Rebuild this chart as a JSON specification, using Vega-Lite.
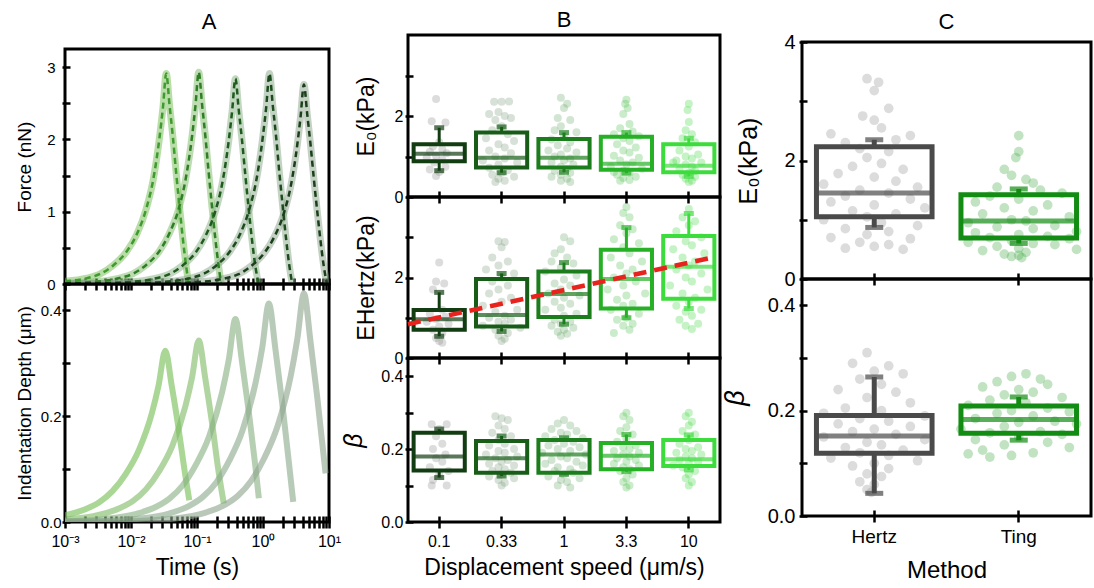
{
"$schema":"https://vega.github.io/schema/vega-lite/v6.json",
"background":"white",
"padding":{"left":13,"top":7,"right":0,"bottom":0},
"config":{
"view":{"stroke":"black","strokeWidth":3},
"font":"Liberation Sans",
"axis":{"domain":false,"grid":false,"tickColor":"black","tickWidth":2.5,"labelColor":"black","titleColor":"black","labelFont":"Liberation Sans","titleFont":"Liberation Sans","titleFontWeight":"normal","labelFlush":false,"labelOverlap":false},
"axisX":{"tickSize":12,"offset":-6,"labelPadding":5,"labelFontSize":16,"titleFontSize":23,"titlePadding":7,"labelAngle":0},
"axisY":{"tickSize":8,"offset":-5,"labelPadding":2,"labelFontSize":15,"titleFontSize":19,"titlePadding":6},
"title":{"fontSize":22,"fontWeight":"normal","font":"Liberation Sans","color":"black","anchor":"middle","frame":"group"}
},
"datasets":{
"force":[
{"s":"10","t":0.001,"f":0.038},{"s":"10","t":0.00216,"f":0.081},{"s":"10","t":0.00342,"f":0.14},{"s":"10","t":0.00542,"f":0.26},{"s":"10","t":0.00859,"f":0.45},{"s":"10","t":0.01213,"f":0.68},{"s":"10","t":0.01714,"f":1.05},{"s":"10","t":0.02158,"f":1.43},{"s":"10","t":0.02716,"f":2.04},{"s":"10","t":0.03048,"f":2.44},{"s":"10","t":0.0342,"f":2.91},{"s":"10","t":0.03837,"f":2.47},{"s":"10","t":0.04305,"f":2.04},{"s":"10","t":0.0483,"f":1.54},{"s":"10","t":0.0542,"f":1.08},{"s":"10","t":0.0608,"f":0.64},{"s":"10","t":0.0682,"f":0.26},{"s":"10","t":0.0748,"f":0.0},
{"s":"3.3","t":0.001,"f":0.012},{"s":"3.3","t":0.00267,"f":0.029},{"s":"3.3","t":0.00423,"f":0.047},{"s":"3.3","t":0.0067,"f":0.082},{"s":"3.3","t":0.01062,"f":0.14},{"s":"3.3","t":0.01683,"f":0.26},{"s":"3.3","t":0.02667,"f":0.45},{"s":"3.3","t":0.03767,"f":0.69},{"s":"3.3","t":0.05321,"f":1.05},{"s":"3.3","t":0.067,"f":1.44},{"s":"3.3","t":0.08433,"f":2.05},{"s":"3.3","t":0.09462,"f":2.46},{"s":"3.3","t":0.1062,"f":2.93},{"s":"3.3","t":0.1191,"f":2.49},{"s":"3.3","t":0.1337,"f":2.05},{"s":"3.3","t":0.15,"f":1.55},{"s":"3.3","t":0.1683,"f":1.08},{"s":"3.3","t":0.1888,"f":0.64},{"s":"3.3","t":0.2118,"f":0.26},{"s":"3.3","t":0.2323,"f":0.0},
{"s":"1","t":0.001,"f":0.005},{"s":"1","t":0.00382,"f":0.011},{"s":"1","t":0.0096,"f":0.028},{"s":"1","t":0.0152,"f":0.045},{"s":"1","t":0.0241,"f":0.08},{"s":"1","t":0.0382,"f":0.136},{"s":"1","t":0.0605,"f":0.256},{"s":"1","t":0.0959,"f":0.44},{"s":"1","t":0.1355,"f":0.67},{"s":"1","t":0.1914,"f":1.02},{"s":"1","t":0.241,"f":1.39},{"s":"1","t":0.3034,"f":1.99},{"s":"1","t":0.3404,"f":2.39},{"s":"1","t":0.382,"f":2.84},{"s":"1","t":0.4285,"f":2.41},{"s":"1","t":0.4808,"f":1.99},{"s":"1","t":0.5395,"f":1.51},{"s":"1","t":0.6053,"f":1.05},{"s":"1","t":0.6792,"f":0.62},{"s":"1","t":0.762,"f":0.26},{"s":"1","t":0.855,"f":0.0},
{"s":"0.33","t":0.001,"f":0.003},{"s":"0.33","t":0.00396,"f":0.006},{"s":"0.33","t":0.01253,"f":0.012},{"s":"0.33","t":0.03148,"f":0.029},{"s":"0.33","t":0.04989,"f":0.047},{"s":"0.33","t":0.0791,"f":0.081},{"s":"0.33","t":0.1253,"f":0.14},{"s":"0.33","t":0.1986,"f":0.26},{"s":"0.33","t":0.3148,"f":0.45},{"s":"0.33","t":0.4446,"f":0.68},{"s":"0.33","t":0.6281,"f":1.05},{"s":"0.33","t":0.7907,"f":1.43},{"s":"0.33","t":0.9954,"f":2.04},{"s":"0.33","t":1.117,"f":2.44},{"s":"0.33","t":1.253,"f":2.91},{"s":"0.33","t":1.406,"f":2.47},{"s":"0.33","t":1.578,"f":2.04},{"s":"0.33","t":1.77,"f":1.54},{"s":"0.33","t":1.986,"f":1.08},{"s":"0.33","t":2.228,"f":0.64},{"s":"0.33","t":2.5,"f":0.26},{"s":"0.33","t":2.773,"f":0.0},
{"s":"0.1","t":0.001,"f":0.002},{"s":"0.1","t":0.00417,"f":0.003},{"s":"0.1","t":0.01318,"f":0.006},{"s":"0.1","t":0.04169,"f":0.011},{"s":"0.1","t":0.1047,"f":0.028},{"s":"0.1","t":0.166,"f":0.044},{"s":"0.1","t":0.263,"f":0.077},{"s":"0.1","t":0.417,"f":0.132},{"s":"0.1","t":0.661,"f":0.248},{"s":"0.1","t":1.047,"f":0.43},{"s":"0.1","t":1.479,"f":0.65},{"s":"0.1","t":2.089,"f":0.99},{"s":"0.1","t":2.63,"f":1.35},{"s":"0.1","t":3.311,"f":1.93},{"s":"0.1","t":3.715,"f":2.32},{"s":"0.1","t":4.169,"f":2.76},{"s":"0.1","t":4.677,"f":2.35},{"s":"0.1","t":5.248,"f":1.93},{"s":"0.1","t":5.888,"f":1.46},{"s":"0.1","t":6.607,"f":1.02},{"s":"0.1","t":7.413,"f":0.61},{"s":"0.1","t":8.318,"f":0.25},{"s":"0.1","t":9.333,"f":0.0}
],
"indent":[
{"s":"10","t":0.001,"d":0.0126},{"s":"10","t":0.002084,"d":0.0246},{"s":"10","t":0.003304,"d":0.0373},{"s":"10","t":0.005236,"d":0.0583},{"s":"10","t":0.008299,"d":0.0907},{"s":"10","t":0.01315,"d":0.136},{"s":"10","t":0.02084,"d":0.207},{"s":"10","t":0.02624,"d":0.259},{"s":"10","t":0.03304,"d":0.324},{"s":"10","t":0.0416,"d":0.256},{"s":"10","t":0.05236,"d":0.178},{"s":"10","t":0.06592,"d":0.091},{"s":"10","t":0.07638,"d":0.041},
{"s":"3.3","t":0.001,"d":0.0045},{"s":"3.3","t":0.003357,"d":0.0137},{"s":"3.3","t":0.0067,"d":0.026},{"s":"3.3","t":0.01062,"d":0.0394},{"s":"3.3","t":0.01683,"d":0.0617},{"s":"3.3","t":0.02667,"d":0.096},{"s":"3.3","t":0.04227,"d":0.144},{"s":"3.3","t":0.067,"d":0.22},{"s":"3.3","t":0.08433,"d":0.274},{"s":"3.3","t":0.1062,"d":0.343},{"s":"3.3","t":0.1337,"d":0.271},{"s":"3.3","t":0.1683,"d":0.189},{"s":"3.3","t":0.2118,"d":0.096},{"s":"3.3","t":0.2547,"d":0.035},
{"s":"1","t":0.001,"d":0.0015},{"s":"1","t":0.00382,"d":0.0054},{"s":"1","t":0.01208,"d":0.0154},{"s":"1","t":0.0241,"d":0.0288},{"s":"1","t":0.0382,"d":0.0442},{"s":"1","t":0.0605,"d":0.069},{"s":"1","t":0.0959,"d":0.108},{"s":"1","t":0.152,"d":0.161},{"s":"1","t":0.241,"d":0.246},{"s":"1","t":0.3034,"d":0.307},{"s":"1","t":0.382,"d":0.384},{"s":"1","t":0.4808,"d":0.303},{"s":"1","t":0.6053,"d":0.211},{"s":"1","t":0.762,"d":0.108},{"s":"1","t":0.865,"d":0.045},
{"s":"0.33","t":0.001,"d":0.001},{"s":"0.33","t":0.00388,"d":0.0019},{"s":"0.33","t":0.01227,"d":0.0058},{"s":"0.33","t":0.03882,"d":0.0165},{"s":"0.33","t":0.07745,"d":0.031},{"s":"0.33","t":0.1227,"d":0.0475},{"s":"0.33","t":0.1945,"d":0.0743},{"s":"0.33","t":0.3083,"d":0.116},{"s":"0.33","t":0.4887,"d":0.173},{"s":"0.33","t":0.7745,"d":0.264},{"s":"0.33","t":0.975,"d":0.33},{"s":"0.33","t":1.227,"d":0.413},{"s":"0.33","t":1.545,"d":0.326},{"s":"0.33","t":1.945,"d":0.227},{"s":"0.33","t":2.449,"d":0.116},{"s":"0.33","t":2.871,"d":0.038},
{"s":"0.1","t":0.001,"d":0.0005},{"s":"0.1","t":0.00417,"d":0.0007},{"s":"0.1","t":0.01318,"d":0.002},{"s":"0.1","t":0.04169,"d":0.006},{"s":"0.1","t":0.1318,"d":0.0173},{"s":"0.1","t":0.263,"d":0.0324},{"s":"0.1","t":0.417,"d":0.0497},{"s":"0.1","t":0.661,"d":0.0778},{"s":"0.1","t":1.047,"d":0.121},{"s":"0.1","t":1.66,"d":0.181},{"s":"0.1","t":2.63,"d":0.276},{"s":"0.1","t":3.311,"d":0.346},{"s":"0.1","t":4.169,"d":0.432},{"s":"0.1","t":5.248,"d":0.341},{"s":"0.1","t":6.607,"d":0.238},{"s":"0.1","t":8.872,"d":0.092}
],
"bbox":[
{"p":"E0","s":"0.1","lo":0.65,"q1":0.88,"med":1.07,"q3":1.3,"hi":1.71},
{"p":"E0","s":"0.33","lo":0.6,"q1":0.73,"med":0.97,"q3":1.59,"hi":1.73},
{"p":"E0","s":"1","lo":0.61,"q1":0.73,"med":0.97,"q3":1.43,"hi":1.59},
{"p":"E0","s":"3.3","lo":0.59,"q1":0.67,"med":0.82,"q3":1.49,"hi":1.59},
{"p":"E0","s":"10","lo":0.51,"q1":0.61,"med":0.77,"q3":1.3,"hi":1.45},
{"p":"EH","s":"0.1","lo":0.54,"q1":0.7,"med":0.96,"q3":1.19,"hi":1.63},
{"p":"EH","s":"0.33","lo":0.66,"q1":0.78,"med":1.07,"q3":1.96,"hi":2.1},
{"p":"EH","s":"1","lo":0.84,"q1":1.02,"med":1.59,"q3":2.15,"hi":2.37},
{"p":"EH","s":"3.3","lo":1.0,"q1":1.23,"med":1.96,"q3":2.69,"hi":3.24},
{"p":"EH","s":"10","lo":1.23,"q1":1.47,"med":2.27,"q3":3.03,"hi":3.59},
{"p":"beta","s":"0.1","lo":0.122,"q1":0.141,"med":0.18,"q3":0.245,"hi":0.255},
{"p":"beta","s":"0.33","lo":0.126,"q1":0.135,"med":0.175,"q3":0.222,"hi":0.236},
{"p":"beta","s":"1","lo":0.131,"q1":0.135,"med":0.185,"q3":0.225,"hi":0.231},
{"p":"beta","s":"3.3","lo":0.138,"q1":0.145,"med":0.182,"q3":0.217,"hi":0.24},
{"p":"beta","s":"10","lo":0.143,"q1":0.154,"med":0.172,"q3":0.225,"hi":0.239}
],
"trend":[{"px":0.0,"py":0.84},{"px":4.83,"py":2.48}],
"bpts":[
{"p":"E0","s":"0.1","v":2.42,"j":0.45},{"p":"E0","s":"0.1","v":1.87,"j":0.38},{"p":"E0","s":"0.1","v":1.84,"j":0.6},{"p":"E0","s":"0.1","v":1.35,"j":0.5},{"p":"E0","s":"0.1","v":1.25,"j":0.4},{"p":"E0","s":"0.1","v":1.18,"j":0.55},{"p":"E0","s":"0.1","v":1.12,"j":0.35},{"p":"E0","s":"0.1","v":1.08,"j":0.62},{"p":"E0","s":"0.1","v":1.02,"j":0.45},{"p":"E0","s":"0.1","v":0.98,"j":0.3},{"p":"E0","s":"0.1","v":0.92,"j":0.55},{"p":"E0","s":"0.1","v":0.85,"j":0.42},{"p":"E0","s":"0.1","v":0.75,"j":0.6},{"p":"E0","s":"0.1","v":0.68,"j":0.35},{"p":"E0","s":"0.1","v":0.62,"j":0.5},{"p":"E0","s":"0.1","v":0.52,"j":0.45},
{"p":"E0","s":"0.33","v":2.35,"j":0.38},{"p":"E0","s":"0.33","v":2.35,"j":0.5},{"p":"E0","s":"0.33","v":2.36,"j":0.62},{"p":"E0","s":"0.33","v":2.1,"j":0.45},{"p":"E0","s":"0.33","v":2.05,"j":0.3},{"p":"E0","s":"0.33","v":2.0,"j":0.55},{"p":"E0","s":"0.33","v":1.95,"j":0.65},{"p":"E0","s":"0.33","v":1.9,"j":0.4},{"p":"E0","s":"0.33","v":1.75,"j":0.5},{"p":"E0","s":"0.33","v":1.65,"j":0.35},{"p":"E0","s":"0.33","v":1.55,"j":0.6},{"p":"E0","s":"0.33","v":1.45,"j":0.25},{"p":"E0","s":"0.33","v":1.38,"j":0.7},{"p":"E0","s":"0.33","v":1.3,"j":0.45},{"p":"E0","s":"0.33","v":1.22,"j":0.55},{"p":"E0","s":"0.33","v":1.15,"j":0.3},{"p":"E0","s":"0.33","v":1.08,"j":0.65},{"p":"E0","s":"0.33","v":1.0,"j":0.4},{"p":"E0","s":"0.33","v":0.95,"j":0.55},{"p":"E0","s":"0.33","v":0.9,"j":0.2},{"p":"E0","s":"0.33","v":0.85,"j":0.75},{"p":"E0","s":"0.33","v":0.8,"j":0.45},{"p":"E0","s":"0.33","v":0.72,"j":0.3},{"p":"E0","s":"0.33","v":0.66,"j":0.6},{"p":"E0","s":"0.33","v":0.6,"j":0.5},{"p":"E0","s":"0.33","v":0.55,"j":0.35},{"p":"E0","s":"0.33","v":0.5,"j":0.7},{"p":"E0","s":"0.33","v":0.45,"j":0.45},{"p":"E0","s":"0.33","v":0.4,"j":0.55},{"p":"E0","s":"0.33","v":0.37,"j":0.4},
{"p":"E0","s":"1","v":2.45,"j":0.45},{"p":"E0","s":"1","v":2.3,"j":0.55},{"p":"E0","s":"1","v":2.2,"j":0.5},{"p":"E0","s":"1","v":1.95,"j":0.4},{"p":"E0","s":"1","v":1.9,"j":0.6},{"p":"E0","s":"1","v":1.75,"j":0.45},{"p":"E0","s":"1","v":1.65,"j":0.35},{"p":"E0","s":"1","v":1.6,"j":0.7},{"p":"E0","s":"1","v":1.5,"j":0.5},{"p":"E0","s":"1","v":1.42,"j":0.3},{"p":"E0","s":"1","v":1.35,"j":0.6},{"p":"E0","s":"1","v":1.28,"j":0.4},{"p":"E0","s":"1","v":1.2,"j":0.55},{"p":"E0","s":"1","v":1.15,"j":0.25},{"p":"E0","s":"1","v":1.1,"j":0.7},{"p":"E0","s":"1","v":1.05,"j":0.45},{"p":"E0","s":"1","v":1.0,"j":0.35},{"p":"E0","s":"1","v":0.95,"j":0.6},{"p":"E0","s":"1","v":0.9,"j":0.5},{"p":"E0","s":"1","v":0.85,"j":0.3},{"p":"E0","s":"1","v":0.8,"j":0.65},{"p":"E0","s":"1","v":0.75,"j":0.45},{"p":"E0","s":"1","v":0.7,"j":0.55},{"p":"E0","s":"1","v":0.65,"j":0.35},{"p":"E0","s":"1","v":0.6,"j":0.6},{"p":"E0","s":"1","v":0.55,"j":0.45},{"p":"E0","s":"1","v":0.5,"j":0.3},{"p":"E0","s":"1","v":0.45,"j":0.55},{"p":"E0","s":"1","v":0.4,"j":0.45},{"p":"E0","s":"1","v":0.37,"j":0.6},
{"p":"E0","s":"3.3","v":2.4,"j":0.5},{"p":"E0","s":"3.3","v":2.3,"j":0.48},{"p":"E0","s":"3.3","v":2.2,"j":0.52},{"p":"E0","s":"3.3","v":2.05,"j":0.45},{"p":"E0","s":"3.3","v":1.8,"j":0.55},{"p":"E0","s":"3.3","v":1.7,"j":0.4},{"p":"E0","s":"3.3","v":1.62,"j":0.6},{"p":"E0","s":"3.3","v":1.55,"j":0.3},{"p":"E0","s":"3.3","v":1.5,"j":0.7},{"p":"E0","s":"3.3","v":1.45,"j":0.45},{"p":"E0","s":"3.3","v":1.38,"j":0.55},{"p":"E0","s":"3.3","v":1.3,"j":0.35},{"p":"E0","s":"3.3","v":1.22,"j":0.65},{"p":"E0","s":"3.3","v":1.15,"j":0.45},{"p":"E0","s":"3.3","v":1.1,"j":0.55},{"p":"E0","s":"3.3","v":1.02,"j":0.3},{"p":"E0","s":"3.3","v":0.97,"j":0.7},{"p":"E0","s":"3.3","v":0.9,"j":0.4},{"p":"E0","s":"3.3","v":0.85,"j":0.6},{"p":"E0","s":"3.3","v":0.8,"j":0.5},{"p":"E0","s":"3.3","v":0.75,"j":0.25},{"p":"E0","s":"3.3","v":0.7,"j":0.75},{"p":"E0","s":"3.3","v":0.65,"j":0.45},{"p":"E0","s":"3.3","v":0.6,"j":0.55},{"p":"E0","s":"3.3","v":0.55,"j":0.35},{"p":"E0","s":"3.3","v":0.5,"j":0.65},{"p":"E0","s":"3.3","v":0.47,"j":0.45},{"p":"E0","s":"3.3","v":0.42,"j":0.55},{"p":"E0","s":"3.3","v":0.4,"j":0.4},{"p":"E0","s":"3.3","v":0.62,"j":0.3},
{"p":"E0","s":"10","v":2.3,"j":0.5},{"p":"E0","s":"10","v":2.15,"j":0.48},{"p":"E0","s":"10","v":1.85,"j":0.5},{"p":"E0","s":"10","v":1.65,"j":0.45},{"p":"E0","s":"10","v":1.55,"j":0.55},{"p":"E0","s":"10","v":1.45,"j":0.4},{"p":"E0","s":"10","v":1.35,"j":0.6},{"p":"E0","s":"10","v":1.25,"j":0.5},{"p":"E0","s":"10","v":1.15,"j":0.35},{"p":"E0","s":"10","v":1.05,"j":0.65},{"p":"E0","s":"10","v":1.0,"j":0.45},{"p":"E0","s":"10","v":0.95,"j":0.55},{"p":"E0","s":"10","v":0.9,"j":0.3},{"p":"E0","s":"10","v":0.85,"j":0.7},{"p":"E0","s":"10","v":0.8,"j":0.45},{"p":"E0","s":"10","v":0.75,"j":0.55},{"p":"E0","s":"10","v":0.7,"j":0.35},{"p":"E0","s":"10","v":0.65,"j":0.6},{"p":"E0","s":"10","v":0.6,"j":0.5},{"p":"E0","s":"10","v":0.55,"j":0.4},{"p":"E0","s":"10","v":0.5,"j":0.6},{"p":"E0","s":"10","v":0.45,"j":0.45},{"p":"E0","s":"10","v":0.4,"j":0.55},{"p":"E0","s":"10","v":0.37,"j":0.5},{"p":"E0","s":"10","v":0.85,"j":0.25},
{"p":"EH","s":"0.1","v":2.37,"j":0.5},{"p":"EH","s":"0.1","v":1.9,"j":0.45},{"p":"EH","s":"0.1","v":1.85,"j":0.58},{"p":"EH","s":"0.1","v":1.7,"j":0.4},{"p":"EH","s":"0.1","v":1.2,"j":0.55},{"p":"EH","s":"0.1","v":1.1,"j":0.35},{"p":"EH","s":"0.1","v":1.02,"j":0.6},{"p":"EH","s":"0.1","v":0.97,"j":0.45},{"p":"EH","s":"0.1","v":0.9,"j":0.3},{"p":"EH","s":"0.1","v":0.85,"j":0.65},{"p":"EH","s":"0.1","v":0.78,"j":0.5},{"p":"EH","s":"0.1","v":0.7,"j":0.4},{"p":"EH","s":"0.1","v":0.62,"j":0.55},{"p":"EH","s":"0.1","v":0.5,"j":0.45},{"p":"EH","s":"0.1","v":0.42,"j":0.5},{"p":"EH","s":"0.1","v":0.38,"j":0.55},
{"p":"EH","s":"0.33","v":2.9,"j":0.45},{"p":"EH","s":"0.33","v":2.88,"j":0.55},{"p":"EH","s":"0.33","v":2.75,"j":0.5},{"p":"EH","s":"0.33","v":2.5,"j":0.35},{"p":"EH","s":"0.33","v":2.4,"j":0.6},{"p":"EH","s":"0.33","v":2.3,"j":0.45},{"p":"EH","s":"0.33","v":2.2,"j":0.25},{"p":"EH","s":"0.33","v":2.1,"j":0.7},{"p":"EH","s":"0.33","v":2.0,"j":0.5},{"p":"EH","s":"0.33","v":1.9,"j":0.35},{"p":"EH","s":"0.33","v":1.8,"j":0.6},{"p":"EH","s":"0.33","v":1.7,"j":0.45},{"p":"EH","s":"0.33","v":1.6,"j":0.3},{"p":"EH","s":"0.33","v":1.5,"j":0.65},{"p":"EH","s":"0.33","v":1.4,"j":0.5},{"p":"EH","s":"0.33","v":1.3,"j":0.2},{"p":"EH","s":"0.33","v":1.2,"j":0.75},{"p":"EH","s":"0.33","v":1.15,"j":0.4},{"p":"EH","s":"0.33","v":1.05,"j":0.55},{"p":"EH","s":"0.33","v":1.0,"j":0.3},{"p":"EH","s":"0.33","v":0.95,"j":0.65},{"p":"EH","s":"0.33","v":0.9,"j":0.45},{"p":"EH","s":"0.33","v":0.85,"j":0.55},{"p":"EH","s":"0.33","v":0.8,"j":0.2},{"p":"EH","s":"0.33","v":0.75,"j":0.8},{"p":"EH","s":"0.33","v":0.7,"j":0.4},{"p":"EH","s":"0.33","v":0.62,"j":0.6},{"p":"EH","s":"0.33","v":0.55,"j":0.45},{"p":"EH","s":"0.33","v":0.48,"j":0.55},{"p":"EH","s":"0.33","v":0.42,"j":0.5},
{"p":"EH","s":"1","v":3.0,"j":0.5},{"p":"EH","s":"1","v":2.9,"j":0.6},{"p":"EH","s":"1","v":2.7,"j":0.45},{"p":"EH","s":"1","v":2.6,"j":0.35},{"p":"EH","s":"1","v":2.5,"j":0.55},{"p":"EH","s":"1","v":2.4,"j":0.3},{"p":"EH","s":"1","v":2.35,"j":0.65},{"p":"EH","s":"1","v":2.25,"j":0.45},{"p":"EH","s":"1","v":2.15,"j":0.2},{"p":"EH","s":"1","v":2.05,"j":0.7},{"p":"EH","s":"1","v":1.95,"j":0.5},{"p":"EH","s":"1","v":1.85,"j":0.35},{"p":"EH","s":"1","v":1.8,"j":0.6},{"p":"EH","s":"1","v":1.7,"j":0.45},{"p":"EH","s":"1","v":1.6,"j":0.25},{"p":"EH","s":"1","v":1.55,"j":0.75},{"p":"EH","s":"1","v":1.5,"j":0.5},{"p":"EH","s":"1","v":1.4,"j":0.35},{"p":"EH","s":"1","v":1.35,"j":0.6},{"p":"EH","s":"1","v":1.25,"j":0.45},{"p":"EH","s":"1","v":1.2,"j":0.2},{"p":"EH","s":"1","v":1.1,"j":0.7},{"p":"EH","s":"1","v":1.05,"j":0.5},{"p":"EH","s":"1","v":0.95,"j":0.35},{"p":"EH","s":"1","v":0.9,"j":0.6},{"p":"EH","s":"1","v":0.85,"j":0.45},{"p":"EH","s":"1","v":0.8,"j":0.3},{"p":"EH","s":"1","v":0.75,"j":0.65},{"p":"EH","s":"1","v":0.7,"j":0.5},{"p":"EH","s":"1","v":0.65,"j":0.4},{"p":"EH","s":"1","v":0.6,"j":0.55},{"p":"EH","s":"1","v":0.55,"j":0.45},
{"p":"EH","s":"3.3","v":3.75,"j":0.5},{"p":"EH","s":"3.3","v":3.6,"j":0.45},{"p":"EH","s":"3.3","v":3.5,"j":0.55},{"p":"EH","s":"3.3","v":3.3,"j":0.4},{"p":"EH","s":"3.3","v":3.2,"j":0.6},{"p":"EH","s":"3.3","v":3.1,"j":0.5},{"p":"EH","s":"3.3","v":2.95,"j":0.3},{"p":"EH","s":"3.3","v":2.85,"j":0.7},{"p":"EH","s":"3.3","v":2.75,"j":0.45},{"p":"EH","s":"3.3","v":2.6,"j":0.55},{"p":"EH","s":"3.3","v":2.5,"j":0.25},{"p":"EH","s":"3.3","v":2.4,"j":0.75},{"p":"EH","s":"3.3","v":2.3,"j":0.4},{"p":"EH","s":"3.3","v":2.2,"j":0.6},{"p":"EH","s":"3.3","v":2.1,"j":0.5},{"p":"EH","s":"3.3","v":2.0,"j":0.3},{"p":"EH","s":"3.3","v":1.9,"j":0.65},{"p":"EH","s":"3.3","v":1.8,"j":0.45},{"p":"EH","s":"3.3","v":1.7,"j":0.2},{"p":"EH","s":"3.3","v":1.6,"j":0.8},{"p":"EH","s":"3.3","v":1.55,"j":0.5},{"p":"EH","s":"3.3","v":1.45,"j":0.35},{"p":"EH","s":"3.3","v":1.35,"j":0.6},{"p":"EH","s":"3.3","v":1.3,"j":0.45},{"p":"EH","s":"3.3","v":1.2,"j":0.25},{"p":"EH","s":"3.3","v":1.1,"j":0.7},{"p":"EH","s":"3.3","v":1.0,"j":0.5},{"p":"EH","s":"3.3","v":0.95,"j":0.35},{"p":"EH","s":"3.3","v":0.85,"j":0.6},{"p":"EH","s":"3.3","v":0.8,"j":0.45},{"p":"EH","s":"3.3","v":0.7,"j":0.55},{"p":"EH","s":"3.3","v":0.62,"j":0.3},
{"p":"EH","s":"10","v":3.7,"j":0.5},{"p":"EH","s":"10","v":3.5,"j":0.4},{"p":"EH","s":"10","v":3.4,"j":0.6},{"p":"EH","s":"10","v":3.3,"j":0.5},{"p":"EH","s":"10","v":3.15,"j":0.3},{"p":"EH","s":"10","v":3.0,"j":0.7},{"p":"EH","s":"10","v":2.9,"j":0.45},{"p":"EH","s":"10","v":2.8,"j":0.55},{"p":"EH","s":"10","v":2.7,"j":0.25},{"p":"EH","s":"10","v":2.6,"j":0.75},{"p":"EH","s":"10","v":2.5,"j":0.4},{"p":"EH","s":"10","v":2.4,"j":0.6},{"p":"EH","s":"10","v":2.3,"j":0.5},{"p":"EH","s":"10","v":2.2,"j":0.3},{"p":"EH","s":"10","v":2.1,"j":0.7},{"p":"EH","s":"10","v":2.0,"j":0.45},{"p":"EH","s":"10","v":1.9,"j":0.55},{"p":"EH","s":"10","v":1.8,"j":0.2},{"p":"EH","s":"10","v":1.7,"j":0.8},{"p":"EH","s":"10","v":1.6,"j":0.4},{"p":"EH","s":"10","v":1.5,"j":0.6},{"p":"EH","s":"10","v":1.4,"j":0.5},{"p":"EH","s":"10","v":1.3,"j":0.3},{"p":"EH","s":"10","v":1.2,"j":0.7},{"p":"EH","s":"10","v":1.15,"j":0.45},{"p":"EH","s":"10","v":1.05,"j":0.55},{"p":"EH","s":"10","v":0.95,"j":0.35},{"p":"EH","s":"10","v":0.85,"j":0.65},{"p":"EH","s":"10","v":0.8,"j":0.45},{"p":"EH","s":"10","v":0.72,"j":0.55},
{"p":"beta","s":"0.1","v":0.268,"j":0.38},{"p":"beta","s":"0.1","v":0.268,"j":0.62},{"p":"beta","s":"0.1","v":0.255,"j":0.5},{"p":"beta","s":"0.1","v":0.235,"j":0.45},{"p":"beta","s":"0.1","v":0.215,"j":0.55},{"p":"beta","s":"0.1","v":0.2,"j":0.4},{"p":"beta","s":"0.1","v":0.185,"j":0.6},{"p":"beta","s":"0.1","v":0.175,"j":0.45},{"p":"beta","s":"0.1","v":0.165,"j":0.55},{"p":"beta","s":"0.1","v":0.15,"j":0.35},{"p":"beta","s":"0.1","v":0.14,"j":0.65},{"p":"beta","s":"0.1","v":0.13,"j":0.5},{"p":"beta","s":"0.1","v":0.115,"j":0.4},{"p":"beta","s":"0.1","v":0.1,"j":0.38},{"p":"beta","s":"0.1","v":0.1,"j":0.62},
{"p":"beta","s":"0.33","v":0.29,"j":0.4},{"p":"beta","s":"0.33","v":0.285,"j":0.5},{"p":"beta","s":"0.33","v":0.28,"j":0.6},{"p":"beta","s":"0.33","v":0.265,"j":0.45},{"p":"beta","s":"0.33","v":0.255,"j":0.55},{"p":"beta","s":"0.33","v":0.245,"j":0.35},{"p":"beta","s":"0.33","v":0.235,"j":0.65},{"p":"beta","s":"0.33","v":0.225,"j":0.45},{"p":"beta","s":"0.33","v":0.215,"j":0.55},{"p":"beta","s":"0.33","v":0.21,"j":0.3},{"p":"beta","s":"0.33","v":0.2,"j":0.7},{"p":"beta","s":"0.33","v":0.195,"j":0.45},{"p":"beta","s":"0.33","v":0.19,"j":0.55},{"p":"beta","s":"0.33","v":0.185,"j":0.25},{"p":"beta","s":"0.33","v":0.18,"j":0.75},{"p":"beta","s":"0.33","v":0.175,"j":0.4},{"p":"beta","s":"0.33","v":0.17,"j":0.6},{"p":"beta","s":"0.33","v":0.165,"j":0.5},{"p":"beta","s":"0.33","v":0.16,"j":0.3},{"p":"beta","s":"0.33","v":0.155,"j":0.7},{"p":"beta","s":"0.33","v":0.15,"j":0.45},{"p":"beta","s":"0.33","v":0.145,"j":0.55},{"p":"beta","s":"0.33","v":0.14,"j":0.35},{"p":"beta","s":"0.33","v":0.135,"j":0.65},{"p":"beta","s":"0.33","v":0.13,"j":0.5},{"p":"beta","s":"0.33","v":0.125,"j":0.3},{"p":"beta","s":"0.33","v":0.12,"j":0.7},{"p":"beta","s":"0.33","v":0.115,"j":0.45},{"p":"beta","s":"0.33","v":0.108,"j":0.55},{"p":"beta","s":"0.33","v":0.1,"j":0.5},
{"p":"beta","s":"1","v":0.28,"j":0.5},{"p":"beta","s":"1","v":0.27,"j":0.4},{"p":"beta","s":"1","v":0.265,"j":0.6},{"p":"beta","s":"1","v":0.255,"j":0.3},{"p":"beta","s":"1","v":0.25,"j":0.7},{"p":"beta","s":"1","v":0.245,"j":0.45},{"p":"beta","s":"1","v":0.24,"j":0.55},{"p":"beta","s":"1","v":0.235,"j":0.2},{"p":"beta","s":"1","v":0.23,"j":0.8},{"p":"beta","s":"1","v":0.225,"j":0.35},{"p":"beta","s":"1","v":0.22,"j":0.65},{"p":"beta","s":"1","v":0.215,"j":0.5},{"p":"beta","s":"1","v":0.21,"j":0.25},{"p":"beta","s":"1","v":0.205,"j":0.75},{"p":"beta","s":"1","v":0.2,"j":0.4},{"p":"beta","s":"1","v":0.195,"j":0.6},{"p":"beta","s":"1","v":0.19,"j":0.15},{"p":"beta","s":"1","v":0.185,"j":0.85},{"p":"beta","s":"1","v":0.18,"j":0.45},{"p":"beta","s":"1","v":0.175,"j":0.55},{"p":"beta","s":"1","v":0.17,"j":0.3},{"p":"beta","s":"1","v":0.165,"j":0.7},{"p":"beta","s":"1","v":0.16,"j":0.2},{"p":"beta","s":"1","v":0.155,"j":0.8},{"p":"beta","s":"1","v":0.15,"j":0.4},{"p":"beta","s":"1","v":0.145,"j":0.6},{"p":"beta","s":"1","v":0.14,"j":0.35},{"p":"beta","s":"1","v":0.135,"j":0.65},{"p":"beta","s":"1","v":0.13,"j":0.5},{"p":"beta","s":"1","v":0.125,"j":0.25},{"p":"beta","s":"1","v":0.12,"j":0.75},{"p":"beta","s":"1","v":0.115,"j":0.45},{"p":"beta","s":"1","v":0.11,"j":0.55},{"p":"beta","s":"1","v":0.1,"j":0.4},{"p":"beta","s":"1","v":0.095,"j":0.6},
{"p":"beta","s":"3.3","v":0.3,"j":0.5},{"p":"beta","s":"3.3","v":0.29,"j":0.45},{"p":"beta","s":"3.3","v":0.28,"j":0.55},{"p":"beta","s":"3.3","v":0.26,"j":0.5},{"p":"beta","s":"3.3","v":0.25,"j":0.4},{"p":"beta","s":"3.3","v":0.24,"j":0.6},{"p":"beta","s":"3.3","v":0.23,"j":0.5},{"p":"beta","s":"3.3","v":0.22,"j":0.35},{"p":"beta","s":"3.3","v":0.21,"j":0.65},{"p":"beta","s":"3.3","v":0.205,"j":0.45},{"p":"beta","s":"3.3","v":0.2,"j":0.55},{"p":"beta","s":"3.3","v":0.195,"j":0.3},{"p":"beta","s":"3.3","v":0.19,"j":0.7},{"p":"beta","s":"3.3","v":0.185,"j":0.45},{"p":"beta","s":"3.3","v":0.18,"j":0.55},{"p":"beta","s":"3.3","v":0.175,"j":0.35},{"p":"beta","s":"3.3","v":0.17,"j":0.65},{"p":"beta","s":"3.3","v":0.165,"j":0.5},{"p":"beta","s":"3.3","v":0.16,"j":0.3},{"p":"beta","s":"3.3","v":0.155,"j":0.7},{"p":"beta","s":"3.3","v":0.15,"j":0.45},{"p":"beta","s":"3.3","v":0.145,"j":0.55},{"p":"beta","s":"3.3","v":0.14,"j":0.4},{"p":"beta","s":"3.3","v":0.13,"j":0.6},{"p":"beta","s":"3.3","v":0.12,"j":0.5},{"p":"beta","s":"3.3","v":0.11,"j":0.45},{"p":"beta","s":"3.3","v":0.1,"j":0.55},{"p":"beta","s":"3.3","v":0.095,"j":0.5},
{"p":"beta","s":"10","v":0.3,"j":0.5},{"p":"beta","s":"10","v":0.29,"j":0.45},{"p":"beta","s":"10","v":0.275,"j":0.55},{"p":"beta","s":"10","v":0.265,"j":0.5},{"p":"beta","s":"10","v":0.25,"j":0.4},{"p":"beta","s":"10","v":0.24,"j":0.6},{"p":"beta","s":"10","v":0.225,"j":0.5},{"p":"beta","s":"10","v":0.215,"j":0.35},{"p":"beta","s":"10","v":0.205,"j":0.65},{"p":"beta","s":"10","v":0.2,"j":0.45},{"p":"beta","s":"10","v":0.195,"j":0.55},{"p":"beta","s":"10","v":0.19,"j":0.3},{"p":"beta","s":"10","v":0.185,"j":0.7},{"p":"beta","s":"10","v":0.18,"j":0.45},{"p":"beta","s":"10","v":0.175,"j":0.55},{"p":"beta","s":"10","v":0.17,"j":0.35},{"p":"beta","s":"10","v":0.165,"j":0.65},{"p":"beta","s":"10","v":0.16,"j":0.5},{"p":"beta","s":"10","v":0.15,"j":0.4},{"p":"beta","s":"10","v":0.14,"j":0.6},{"p":"beta","s":"10","v":0.13,"j":0.5},{"p":"beta","s":"10","v":0.12,"j":0.45},{"p":"beta","s":"10","v":0.11,"j":0.55},{"p":"beta","s":"10","v":0.1,"j":0.5},{"p":"beta","s":"10","v":0.155,"j":0.25}
],
"cbox":[
{"p":"E0","s":"Hertz","lo":0.87,"q1":1.05,"med":1.45,"q3":2.23,"hi":2.35},
{"p":"E0","s":"Ting","lo":0.6,"q1":0.69,"med":0.98,"q3":1.42,"hi":1.52},
{"p":"beta","s":"Hertz","lo":0.043,"q1":0.119,"med":0.152,"q3":0.191,"hi":0.264},
{"p":"beta","s":"Ting","lo":0.144,"q1":0.157,"med":0.183,"q3":0.209,"hi":0.226}
],
"cpts":[
{"p":"E0","s":"Hertz","v":3.38,"j":0.45},{"p":"E0","s":"Hertz","v":3.32,"j":0.53},{"p":"E0","s":"Hertz","v":3.18,"j":0.5},{"p":"E0","s":"Hertz","v":2.88,"j":0.6},{"p":"E0","s":"Hertz","v":2.75,"j":0.42},{"p":"E0","s":"Hertz","v":2.68,"j":0.5},{"p":"E0","s":"Hertz","v":2.55,"j":0.55},{"p":"E0","s":"Hertz","v":2.45,"j":0.2},{"p":"E0","s":"Hertz","v":2.42,"j":0.75},{"p":"E0","s":"Hertz","v":2.35,"j":0.65},{"p":"E0","s":"Hertz","v":2.3,"j":0.3},{"p":"E0","s":"Hertz","v":2.2,"j":0.4},{"p":"E0","s":"Hertz","v":2.15,"j":0.6},{"p":"E0","s":"Hertz","v":2.05,"j":0.45},{"p":"E0","s":"Hertz","v":1.95,"j":0.55},{"p":"E0","s":"Hertz","v":1.9,"j":0.35},{"p":"E0","s":"Hertz","v":1.85,"j":0.7},{"p":"E0","s":"Hertz","v":1.78,"j":0.25},{"p":"E0","s":"Hertz","v":1.72,"j":0.5},{"p":"E0","s":"Hertz","v":1.65,"j":0.65},{"p":"E0","s":"Hertz","v":1.6,"j":0.15},{"p":"E0","s":"Hertz","v":1.55,"j":0.8},{"p":"E0","s":"Hertz","v":1.5,"j":0.4},{"p":"E0","s":"Hertz","v":1.45,"j":0.6},{"p":"E0","s":"Hertz","v":1.4,"j":0.3},{"p":"E0","s":"Hertz","v":1.35,"j":0.75},{"p":"E0","s":"Hertz","v":1.3,"j":0.2},{"p":"E0","s":"Hertz","v":1.25,"j":0.5},{"p":"E0","s":"Hertz","v":1.2,"j":0.85},{"p":"E0","s":"Hertz","v":1.15,"j":0.35},{"p":"E0","s":"Hertz","v":1.1,"j":0.65},{"p":"E0","s":"Hertz","v":1.05,"j":0.45},{"p":"E0","s":"Hertz","v":1.0,"j":0.15},{"p":"E0","s":"Hertz","v":0.95,"j":0.55},{"p":"E0","s":"Hertz","v":0.9,"j":0.8},{"p":"E0","s":"Hertz","v":0.85,"j":0.3},{"p":"E0","s":"Hertz","v":0.8,"j":0.6},{"p":"E0","s":"Hertz","v":0.75,"j":0.45},{"p":"E0","s":"Hertz","v":0.7,"j":0.2},{"p":"E0","s":"Hertz","v":0.68,"j":0.75},{"p":"E0","s":"Hertz","v":0.62,"j":0.4},{"p":"E0","s":"Hertz","v":0.58,"j":0.6},{"p":"E0","s":"Hertz","v":0.55,"j":0.5},{"p":"E0","s":"Hertz","v":0.52,"j":0.3},{"p":"E0","s":"Hertz","v":0.5,"j":0.7},
{"p":"E0","s":"Ting","v":2.42,"j":0.5},{"p":"E0","s":"Ting","v":2.15,"j":0.5},{"p":"E0","s":"Ting","v":2.05,"j":0.48},{"p":"E0","s":"Ting","v":1.85,"j":0.4},{"p":"E0","s":"Ting","v":1.75,"j":0.45},{"p":"E0","s":"Ting","v":1.68,"j":0.55},{"p":"E0","s":"Ting","v":1.62,"j":0.6},{"p":"E0","s":"Ting","v":1.55,"j":0.35},{"p":"E0","s":"Ting","v":1.5,"j":0.65},{"p":"E0","s":"Ting","v":1.45,"j":0.8},{"p":"E0","s":"Ting","v":1.4,"j":0.3},{"p":"E0","s":"Ting","v":1.35,"j":0.5},{"p":"E0","s":"Ting","v":1.3,"j":0.2},{"p":"E0","s":"Ting","v":1.25,"j":0.7},{"p":"E0","s":"Ting","v":1.2,"j":0.4},{"p":"E0","s":"Ting","v":1.15,"j":0.6},{"p":"E0","s":"Ting","v":1.1,"j":0.25},{"p":"E0","s":"Ting","v":1.05,"j":0.85},{"p":"E0","s":"Ting","v":1.0,"j":0.45},{"p":"E0","s":"Ting","v":0.98,"j":0.55},{"p":"E0","s":"Ting","v":0.95,"j":0.15},{"p":"E0","s":"Ting","v":0.9,"j":0.75},{"p":"E0","s":"Ting","v":0.88,"j":0.35},{"p":"E0","s":"Ting","v":0.85,"j":0.6},{"p":"E0","s":"Ting","v":0.8,"j":0.9},{"p":"E0","s":"Ting","v":0.78,"j":0.2},{"p":"E0","s":"Ting","v":0.75,"j":0.5},{"p":"E0","s":"Ting","v":0.72,"j":0.7},{"p":"E0","s":"Ting","v":0.7,"j":0.3},{"p":"E0","s":"Ting","v":0.68,"j":0.85},{"p":"E0","s":"Ting","v":0.65,"j":0.45},{"p":"E0","s":"Ting","v":0.62,"j":0.15},{"p":"E0","s":"Ting","v":0.6,"j":0.6},{"p":"E0","s":"Ting","v":0.58,"j":0.75},{"p":"E0","s":"Ting","v":0.55,"j":0.35},{"p":"E0","s":"Ting","v":0.52,"j":0.5},{"p":"E0","s":"Ting","v":0.5,"j":0.9},{"p":"E0","s":"Ting","v":0.48,"j":0.25},{"p":"E0","s":"Ting","v":0.45,"j":0.55},{"p":"E0","s":"Ting","v":0.42,"j":0.4},{"p":"E0","s":"Ting","v":0.4,"j":0.5},{"p":"E0","s":"Ting","v":0.38,"j":0.45},{"p":"E0","s":"Ting","v":0.36,"j":0.52},
{"p":"beta","s":"Hertz","v":0.31,"j":0.45},{"p":"beta","s":"Hertz","v":0.29,"j":0.35},{"p":"beta","s":"Hertz","v":0.285,"j":0.6},{"p":"beta","s":"Hertz","v":0.275,"j":0.5},{"p":"beta","s":"Hertz","v":0.27,"j":0.7},{"p":"beta","s":"Hertz","v":0.26,"j":0.4},{"p":"beta","s":"Hertz","v":0.25,"j":0.55},{"p":"beta","s":"Hertz","v":0.24,"j":0.25},{"p":"beta","s":"Hertz","v":0.235,"j":0.65},{"p":"beta","s":"Hertz","v":0.225,"j":0.45},{"p":"beta","s":"Hertz","v":0.215,"j":0.75},{"p":"beta","s":"Hertz","v":0.205,"j":0.3},{"p":"beta","s":"Hertz","v":0.2,"j":0.55},{"p":"beta","s":"Hertz","v":0.195,"j":0.15},{"p":"beta","s":"Hertz","v":0.19,"j":0.85},{"p":"beta","s":"Hertz","v":0.185,"j":0.4},{"p":"beta","s":"Hertz","v":0.18,"j":0.6},{"p":"beta","s":"Hertz","v":0.175,"j":0.25},{"p":"beta","s":"Hertz","v":0.17,"j":0.75},{"p":"beta","s":"Hertz","v":0.165,"j":0.5},{"p":"beta","s":"Hertz","v":0.16,"j":0.35},{"p":"beta","s":"Hertz","v":0.155,"j":0.65},{"p":"beta","s":"Hertz","v":0.15,"j":0.15},{"p":"beta","s":"Hertz","v":0.145,"j":0.85},{"p":"beta","s":"Hertz","v":0.14,"j":0.45},{"p":"beta","s":"Hertz","v":0.135,"j":0.55},{"p":"beta","s":"Hertz","v":0.13,"j":0.3},{"p":"beta","s":"Hertz","v":0.125,"j":0.7},{"p":"beta","s":"Hertz","v":0.12,"j":0.4},{"p":"beta","s":"Hertz","v":0.115,"j":0.6},{"p":"beta","s":"Hertz","v":0.11,"j":0.2},{"p":"beta","s":"Hertz","v":0.105,"j":0.8},{"p":"beta","s":"Hertz","v":0.1,"j":0.5},{"p":"beta","s":"Hertz","v":0.095,"j":0.35},{"p":"beta","s":"Hertz","v":0.09,"j":0.6},{"p":"beta","s":"Hertz","v":0.08,"j":0.45},{"p":"beta","s":"Hertz","v":0.075,"j":0.55},{"p":"beta","s":"Hertz","v":0.065,"j":0.4},{"p":"beta","s":"Hertz","v":0.06,"j":0.5},{"p":"beta","s":"Hertz","v":0.05,"j":0.45},{"p":"beta","s":"Hertz","v":0.045,"j":0.48},
{"p":"beta","s":"Ting","v":0.27,"j":0.55},{"p":"beta","s":"Ting","v":0.265,"j":0.45},{"p":"beta","s":"Ting","v":0.26,"j":0.65},{"p":"beta","s":"Ting","v":0.255,"j":0.35},{"p":"beta","s":"Ting","v":0.25,"j":0.7},{"p":"beta","s":"Ting","v":0.245,"j":0.25},{"p":"beta","s":"Ting","v":0.24,"j":0.5},{"p":"beta","s":"Ting","v":0.235,"j":0.6},{"p":"beta","s":"Ting","v":0.23,"j":0.4},{"p":"beta","s":"Ting","v":0.225,"j":0.8},{"p":"beta","s":"Ting","v":0.22,"j":0.3},{"p":"beta","s":"Ting","v":0.215,"j":0.55},{"p":"beta","s":"Ting","v":0.21,"j":0.15},{"p":"beta","s":"Ting","v":0.205,"j":0.7},{"p":"beta","s":"Ting","v":0.2,"j":0.45},{"p":"beta","s":"Ting","v":0.198,"j":0.85},{"p":"beta","s":"Ting","v":0.195,"j":0.35},{"p":"beta","s":"Ting","v":0.19,"j":0.6},{"p":"beta","s":"Ting","v":0.185,"j":0.2},{"p":"beta","s":"Ting","v":0.18,"j":0.75},{"p":"beta","s":"Ting","v":0.178,"j":0.5},{"p":"beta","s":"Ting","v":0.175,"j":0.9},{"p":"beta","s":"Ting","v":0.17,"j":0.4},{"p":"beta","s":"Ting","v":0.165,"j":0.1},{"p":"beta","s":"Ting","v":0.16,"j":0.65},{"p":"beta","s":"Ting","v":0.158,"j":0.3},{"p":"beta","s":"Ting","v":0.155,"j":0.8},{"p":"beta","s":"Ting","v":0.15,"j":0.5},{"p":"beta","s":"Ting","v":0.145,"j":0.2},{"p":"beta","s":"Ting","v":0.14,"j":0.7},{"p":"beta","s":"Ting","v":0.135,"j":0.4},{"p":"beta","s":"Ting","v":0.13,"j":0.85},{"p":"beta","s":"Ting","v":0.125,"j":0.25},{"p":"beta","s":"Ting","v":0.12,"j":0.6},{"p":"beta","s":"Ting","v":0.118,"j":0.15},{"p":"beta","s":"Ting","v":0.115,"j":0.45},{"p":"beta","s":"Ting","v":0.112,"j":0.3}
]
},
"spacing":-3,
"hconcat":[
{"bounds":"flush","spacing":0,"vconcat":[
{"title":{"text":"A","offset":1,"dx":12},"width":264,"height":14,"view":{"stroke":null},"data":{"values":[]},"mark":"point"},
{"width":264,"height":235,"data":{"name":"force"},
"encoding":{
"x":{"field":"t","type":"quantitative","scale":{"type":"log","domain":[0.001,10]},"axis":{"values":[0.001,0.002,0.003,0.004,0.005,0.006,0.007,0.008,0.009,0.01,0.02,0.03,0.04,0.05,0.06,0.07,0.08,0.09,0.1,0.2,0.3,0.4,0.5,0.6,0.7,0.8,0.9,1,2,3,4,5,6,7,8,9,10],"labels":false,"title":null}},
"y":{"field":"f","type":"quantitative","scale":{"domain":[0,3.25]},"axis":{"values":[0,0.5,1,1.5,2,2.5,3],"labelExpr":"datum.value % 1 == 0 ? format(datum.value, 'd') : ''","title":"Force (nN)","labelPadding":7,"titlePadding":12}}},
"layer":[
{"mark":{"type":"line","strokeWidth":7,"opacity":0.5,"clip":true,"interpolate":"monotone"},"encoding":{"color":{"field":"s","type":"nominal","scale":{"domain":["10","3.3","1","0.33","0.1"],"range":["#71bc50","#7cb963","#86af80","#88a888","#8aa38a"]},"legend":null}}},
{"mark":{"type":"line","strokeWidth":2.5,"strokeDash":[6,4],"clip":true,"interpolate":"monotone"},"encoding":{"stroke":{"field":"s","type":"nominal","scale":{"domain":["10","3.3","1","0.33","0.1"],"range":["#3f9a2f","#2f7f26","#1f5a1f","#1d4b1d","#1b3f1b"]},"legend":null}}}
]},
{"width":264,"height":238,"data":{"name":"indent"},
"mark":{"type":"line","strokeWidth":6,"opacity":0.6,"clip":true,"interpolate":"monotone"},
"encoding":{
"x":{"field":"t","type":"quantitative","scale":{"type":"log","domain":[0.001,10]},"axis":{"values":[0.001,0.002,0.003,0.004,0.005,0.006,0.007,0.008,0.009,0.01,0.02,0.03,0.04,0.05,0.06,0.07,0.08,0.09,0.1,0.2,0.3,0.4,0.5,0.6,0.7,0.8,0.9,1,2,3,4,5,6,7,8,9,10],"labelExpr":"datum.value == 0.001 ? '10⁻³' : datum.value == 0.01 ? '10⁻²' : datum.value == 0.1 ? '10⁻¹' : datum.value == 1 ? '10⁰' : datum.value == 10 ? '10¹' : ''","title":"Time (s)"}},
"y":{"field":"d","type":"quantitative","scale":{"domain":[0,0.45]},"axis":{"values":[0,0.1,0.2,0.3,0.4],"labelExpr":"round(datum.value*10) % 2 == 0 ? format(datum.value, '.1f') : ''","title":"Indentation Depth (μm)","labelPadding":1,"titlePadding":6}},
"color":{"field":"s","type":"nominal","scale":{"domain":["10","3.3","1","0.33","0.1"],"range":["#7abc58","#80b570","#85ad80","#87a587","#889f88"]},"legend":null}}}
]},
{"bounds":"flush","spacing":0,"vconcat":[
{"title":{"text":"B","offset":3},"width":312,"height":162,"resolve":{"scale":{"x":"independent","xOffset":"independent","color":"independent"}},
"layer":[
{"data":{"name":"bpts"},"transform":[{"filter":"datum.p == 'E0'"}],"mark":{"type":"circle","size":64,"opacity":0.3},"encoding":{"x":{"field":"s","type":"ordinal","scale":{"domain":["0.1","0.33","1","3.3","10"],"paddingInner":0,"paddingOuter":0},"axis":null},"xOffset":{"field":"j","type":"quantitative","scale":{"domain":[0,1]}},"y":{"field":"v","type":"quantitative","scale":{"domain":[0,3.9]},"axis":{"values":[0,1,2,3],"labelExpr":"datum.value % 2 == 0 ? format(datum.value, 'd') : ''","title":"E₀(kPa)","titleFontSize":23,"labelFontSize":16,"titlePadding":16}},"color":{"field":"s","type":"nominal","scale":{"domain":["0.1","0.33","1","3.3","10"],"range":["#8a8a8a","#7a9a7a","#6aa86a","#50c050","#40d840"]},"legend":null}}},
{"data":{"name":"bbox"},"transform":[{"filter":"datum.p == 'E0'"}],
"encoding":{"x":{"field":"s","type":"ordinal","scale":{"domain":["0.1","0.33","1","3.3","10"],"paddingInner":0,"paddingOuter":0},"axis":{"labels":false,"title":null}},"color":{"field":"s","type":"nominal","scale":{"domain":["0.1","0.33","1","3.3","10"],"range":["#123d12","#175c17","#1c7d1c","#25b025","#3ddc3d"]},"legend":null}},
"layer":[
{"mark":{"type":"rule","strokeWidth":3},"encoding":{"y":{"field":"lo","type":"quantitative"},"y2":{"field":"q1"}}},
{"mark":{"type":"rule","strokeWidth":3},"encoding":{"y":{"field":"q3","type":"quantitative"},"y2":{"field":"hi"}}},
{"mark":{"type":"bar","filled":false,"strokeWidth":4,"width":{"band":0.82}},"encoding":{"y":{"field":"q1","type":"quantitative"},"y2":{"field":"q3"}}},
{"mark":{"type":"tick","thickness":4,"size":51},"encoding":{"y":{"field":"med","type":"quantitative"}}},
{"mark":{"type":"tick","thickness":5,"size":10},"encoding":{"y":{"field":"lo","type":"quantitative"}}},
{"mark":{"type":"tick","thickness":5,"size":10},"encoding":{"y":{"field":"hi","type":"quantitative"}}}
]}
]},
{"width":312,"height":161,"resolve":{"scale":{"x":"independent","xOffset":"independent","color":"independent"}},
"layer":[
{"data":{"name":"bpts"},"transform":[{"filter":"datum.p == 'EH'"}],"mark":{"type":"circle","size":64,"opacity":0.3},"encoding":{"x":{"field":"s","type":"ordinal","scale":{"domain":["0.1","0.33","1","3.3","10"],"paddingInner":0,"paddingOuter":0},"axis":null},"xOffset":{"field":"j","type":"quantitative","scale":{"domain":[0,1]}},"y":{"field":"v","type":"quantitative","scale":{"domain":[0,3.9]},"axis":{"values":[0,1,2,3],"labelExpr":"datum.value % 2 == 0 ? format(datum.value, 'd') : ''","title":"EHertz(kPa)","titleFontSize":23,"labelFontSize":16,"titlePadding":16}},"color":{"field":"s","type":"nominal","scale":{"domain":["0.1","0.33","1","3.3","10"],"range":["#8a8a8a","#7a9a7a","#6aa86a","#50c050","#40d840"]},"legend":null}}},
{"data":{"name":"bbox"},"transform":[{"filter":"datum.p == 'EH'"}],
"encoding":{"x":{"field":"s","type":"ordinal","scale":{"domain":["0.1","0.33","1","3.3","10"],"paddingInner":0,"paddingOuter":0},"axis":{"labels":false,"title":null}},"color":{"field":"s","type":"nominal","scale":{"domain":["0.1","0.33","1","3.3","10"],"range":["#123d12","#175c17","#1c7d1c","#25b025","#3ddc3d"]},"legend":null}},
"layer":[
{"mark":{"type":"rule","strokeWidth":3},"encoding":{"y":{"field":"lo","type":"quantitative"},"y2":{"field":"q1"}}},
{"mark":{"type":"rule","strokeWidth":3},"encoding":{"y":{"field":"q3","type":"quantitative"},"y2":{"field":"hi"}}},
{"mark":{"type":"bar","filled":false,"strokeWidth":4,"width":{"band":0.82}},"encoding":{"y":{"field":"q1","type":"quantitative"},"y2":{"field":"q3"}}},
{"mark":{"type":"tick","thickness":4,"size":51},"encoding":{"y":{"field":"med","type":"quantitative"}}},
{"mark":{"type":"tick","thickness":5,"size":10},"encoding":{"y":{"field":"lo","type":"quantitative"}}},
{"mark":{"type":"tick","thickness":5,"size":10},"encoding":{"y":{"field":"hi","type":"quantitative"}}}
]},
{"data":{"name":"trend"},"mark":{"type":"line","color":"#e8231e","strokeWidth":4.5,"strokeDash":[13,8]},"encoding":{"x":{"field":"px","type":"quantitative","scale":{"domain":[0,5]},"axis":null},"y":{"field":"py","type":"quantitative"}}}
]},
{"width":312,"height":164,"resolve":{"scale":{"x":"independent","xOffset":"independent","color":"independent"}},
"layer":[
{"data":{"name":"bpts"},"transform":[{"filter":"datum.p == 'beta'"}],"mark":{"type":"circle","size":64,"opacity":0.3},"encoding":{"x":{"field":"s","type":"ordinal","scale":{"domain":["0.1","0.33","1","3.3","10"],"paddingInner":0,"paddingOuter":0},"axis":null},"xOffset":{"field":"j","type":"quantitative","scale":{"domain":[0,1]}},"y":{"field":"v","type":"quantitative","scale":{"domain":[0,0.45]},"axis":{"values":[0,0.1,0.2,0.3,0.4],"labelExpr":"round(datum.value*10) % 2 == 0 ? format(datum.value, '.1f') : ''","title":"β","titleFontSize":25,"titleFontStyle":"italic","labelFontSize":16,"titlePadding":14}},"color":{"field":"s","type":"nominal","scale":{"domain":["0.1","0.33","1","3.3","10"],"range":["#8a8a8a","#7a9a7a","#6aa86a","#50c050","#40d840"]},"legend":null}}},
{"data":{"name":"bbox"},"transform":[{"filter":"datum.p == 'beta'"}],
"encoding":{"x":{"field":"s","type":"ordinal","scale":{"domain":["0.1","0.33","1","3.3","10"],"paddingInner":0,"paddingOuter":0},"axis":{"title":"Displacement speed (μm/s)"}},"color":{"field":"s","type":"nominal","scale":{"domain":["0.1","0.33","1","3.3","10"],"range":["#123d12","#175c17","#1c7d1c","#25b025","#3ddc3d"]},"legend":null}},
"layer":[
{"mark":{"type":"rule","strokeWidth":3},"encoding":{"y":{"field":"lo","type":"quantitative"},"y2":{"field":"q1"}}},
{"mark":{"type":"rule","strokeWidth":3},"encoding":{"y":{"field":"q3","type":"quantitative"},"y2":{"field":"hi"}}},
{"mark":{"type":"bar","filled":false,"strokeWidth":4,"width":{"band":0.82}},"encoding":{"y":{"field":"q1","type":"quantitative"},"y2":{"field":"q3"}}},
{"mark":{"type":"tick","thickness":4,"size":51},"encoding":{"y":{"field":"med","type":"quantitative"}}},
{"mark":{"type":"tick","thickness":5,"size":10},"encoding":{"y":{"field":"lo","type":"quantitative"}}},
{"mark":{"type":"tick","thickness":5,"size":10},"encoding":{"y":{"field":"hi","type":"quantitative"}}}
]}
]}
]},
{"bounds":"flush","spacing":0,"vconcat":[
{"title":{"text":"C","offset":1},"width":289,"height":7,"view":{"stroke":null},"data":{"values":[]},"mark":"point"},
{"width":289,"height":237,"resolve":{"scale":{"x":"independent","xOffset":"independent","color":"independent"}},
"layer":[
{"data":{"name":"cpts"},"transform":[{"filter":"datum.p == 'E0'"}],"mark":{"type":"circle","size":95,"opacity":0.35},"encoding":{"x":{"field":"s","type":"nominal","scale":{"domain":["Hertz","Ting"],"paddingInner":0,"paddingOuter":0},"axis":null},"xOffset":{"field":"j","type":"quantitative","scale":{"domain":[0,1]}},"y":{"field":"v","type":"quantitative","scale":{"domain":[0,4]},"axis":{"values":[0,1,2,3,4],"labelExpr":"datum.value % 2 == 0 ? format(datum.value, 'd') : ''","title":"E₀(kPa)","titleFontSize":25,"labelFontSize":20,"labelPadding":4,"titlePadding":22}},"color":{"field":"s","type":"nominal","scale":{"domain":["Hertz","Ting"],"range":["#9a9a9a","#4caf50"]},"legend":null}}},
{"data":{"name":"cbox"},"transform":[{"filter":"datum.p == 'E0'"}],
"encoding":{"x":{"field":"s","type":"nominal","scale":{"domain":["Hertz","Ting"],"paddingInner":0,"paddingOuter":0},"axis":{"labels":false,"title":null}},"color":{"field":"s","type":"nominal","scale":{"domain":["Hertz","Ting"],"range":["#4a4a4a","#128c12"]},"legend":null}},
"layer":[
{"mark":{"type":"rule","strokeWidth":5},"encoding":{"y":{"field":"lo","type":"quantitative"},"y2":{"field":"q1"}}},
{"mark":{"type":"rule","strokeWidth":5},"encoding":{"y":{"field":"q3","type":"quantitative"},"y2":{"field":"hi"}}},
{"mark":{"type":"bar","filled":false,"strokeWidth":5,"width":{"band":0.8}},"encoding":{"y":{"field":"q1","type":"quantitative"},"y2":{"field":"q3"}}},
{"mark":{"type":"tick","thickness":5,"size":114},"encoding":{"y":{"field":"med","type":"quantitative"}}},
{"mark":{"type":"tick","thickness":5,"size":18},"encoding":{"y":{"field":"lo","type":"quantitative"}}},
{"mark":{"type":"tick","thickness":5,"size":18},"encoding":{"y":{"field":"hi","type":"quantitative"}}}
]}
]},
{"width":289,"height":237,"resolve":{"scale":{"x":"independent","xOffset":"independent","color":"independent"}},
"layer":[
{"data":{"name":"cpts"},"transform":[{"filter":"datum.p == 'beta'"}],"mark":{"type":"circle","size":95,"opacity":0.35},"encoding":{"x":{"field":"s","type":"nominal","scale":{"domain":["Hertz","Ting"],"paddingInner":0,"paddingOuter":0},"axis":null},"xOffset":{"field":"j","type":"quantitative","scale":{"domain":[0,1]}},"y":{"field":"v","type":"quantitative","scale":{"domain":[0,0.45]},"axis":{"values":[0,0.1,0.2,0.3,0.4],"labelExpr":"round(datum.value*10) % 2 == 0 ? format(datum.value, '.1f') : ''","title":"β","titleFontSize":27,"titleFontStyle":"italic","labelFontSize":20,"labelPadding":4,"titlePadding":18}},"color":{"field":"s","type":"nominal","scale":{"domain":["Hertz","Ting"],"range":["#9a9a9a","#4caf50"]},"legend":null}}},
{"data":{"name":"cbox"},"transform":[{"filter":"datum.p == 'beta'"}],
"encoding":{"x":{"field":"s","type":"nominal","scale":{"domain":["Hertz","Ting"],"paddingInner":0,"paddingOuter":0},"axis":{"title":"Method","labelFontSize":19,"titleFontSize":24,"labelPadding":5,"titlePadding":12}},"color":{"field":"s","type":"nominal","scale":{"domain":["Hertz","Ting"],"range":["#4a4a4a","#128c12"]},"legend":null}},
"layer":[
{"mark":{"type":"rule","strokeWidth":5},"encoding":{"y":{"field":"lo","type":"quantitative"},"y2":{"field":"q1"}}},
{"mark":{"type":"rule","strokeWidth":5},"encoding":{"y":{"field":"q3","type":"quantitative"},"y2":{"field":"hi"}}},
{"mark":{"type":"bar","filled":false,"strokeWidth":5,"width":{"band":0.8}},"encoding":{"y":{"field":"q1","type":"quantitative"},"y2":{"field":"q3"}}},
{"mark":{"type":"tick","thickness":5,"size":114},"encoding":{"y":{"field":"med","type":"quantitative"}}},
{"mark":{"type":"tick","thickness":5,"size":18},"encoding":{"y":{"field":"lo","type":"quantitative"}}},
{"mark":{"type":"tick","thickness":5,"size":18},"encoding":{"y":{"field":"hi","type":"quantitative"}}}
]}
]}
]}
]
}
